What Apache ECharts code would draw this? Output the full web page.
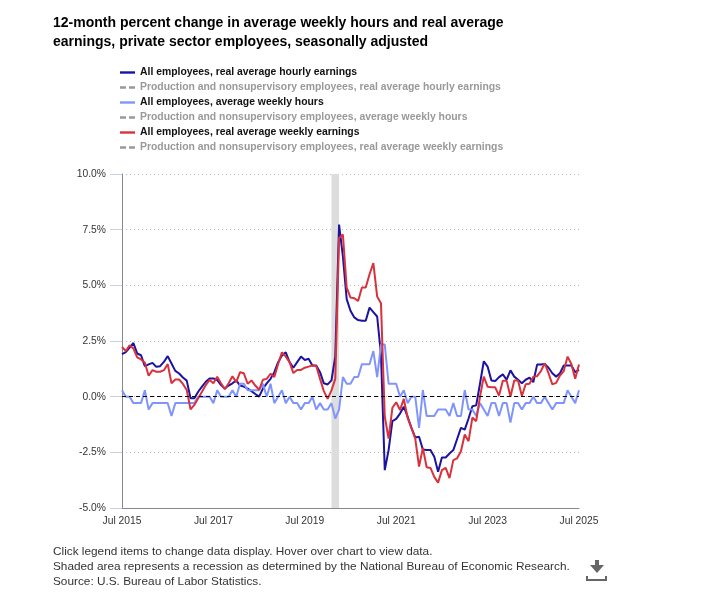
<!DOCTYPE html>
<html lang="en">
<head>
    <meta charset="UTF-8">
    <title>Real earnings</title>
    <script src="https://cdn.jsdelivr.net/npm/echarts@6/dist/echarts.min.js"></script>
    <style>
        html, body { margin: 0; padding: 0; background: #fff; }
        #main { width: 718px; height: 607px; }
    </style>
</head>
<body>
    <div id="main"></div>
    <script>
        // monthly, Jul 2015 .. Jul 2025
        var monthNames = ['Jan','Feb','Mar','Apr','May','Jun','Jul','Aug','Sep','Oct','Nov','Dec'];
        var categories = [];
        for (var k = 0; k <= 120; k++) {
            var m = (6 + k) % 12, y = 2015 + Math.floor((6 + k) / 12);
            categories.push(monthNames[m] + ' ' + y);
        }
        var xTickLabels = ['Jul 2015','Jul 2017','Jul 2019','Jul 2021','Jul 2023','Jul 2025'];
        var yTicks = [-5, -2.5, 0, 2.5, 5, 7.5, 10];

        var seriesNames = [
            'All employees, real average hourly earnings',
            'Production and nonsupervisory employees, real average hourly earnings',
            'All employees, average weekly hours',
            'Production and nonsupervisory employees, average weekly hours',
            'All employees, real average weekly earnings',
            'Production and nonsupervisory employees, real average weekly earnings'
        ];

        var hourlyAll = [
            1.91,2.0,2.2,2.41,1.94,1.86,1.37,1.45,1.52,1.34,
            1.37,1.56,1.82,1.49,1.16,1.04,0.86,0.72,-0.07,-0.07,
            0.22,0.45,0.67,0.82,0.82,0.75,0.52,0.37,0.5,0.6,
            0.73,0.5,0.45,0.36,0.25,0.12,0.0,0.36,0.6,0.8,
            1.1,1.55,1.85,1.99,1.55,1.3,1.55,1.8,1.65,1.7,
            1.4,1.4,1.1,0.6,0.55,0.73,1.8,7.73,6.3,4.38,
            3.86,3.56,3.44,3.41,3.41,4.0,3.8,3.6,1.9,-3.3,
            -2.4,-1.1,-1.0,-0.76,-0.45,-0.9,-1.4,-1.83,-1.8,-2.37,
            -2.4,-2.4,-2.7,-3.37,-2.73,-2.73,-2.55,-2.4,-1.9,-1.4,
            -1.48,-0.98,-0.43,-0.39,0.58,1.59,1.35,0.73,0.7,0.88,
            1.0,0.76,1.18,0.9,0.76,0.6,0.76,0.85,0.65,1.44,
            1.44,1.47,1.3,1.05,0.9,1.05,1.4,1.4,1.4,1.1,
            1.2
        ];
        var hoursAll = [
            0.29,0,0,-0.29,-0.29,-0.29,0.29,-0.58,-0.29,-0.29,
            -0.29,-0.29,-0.29,-0.87,-0.29,-0.29,-0.29,-0.29,-0.29,-0.29,
            0,0,0,0,-0.29,0.29,0,0,0,0.29,
            0,0.58,0.58,0.29,0.29,0.29,0.29,0.58,0,0.58,
            -0.29,0,0.29,-0.29,0,-0.29,-0.29,-0.58,-0.29,-0.29,
            0,-0.58,-0.29,-0.58,-0.58,-0.29,-0.98,-0.58,0.88,0.58,
            0.58,0.88,0.88,1.46,1.46,1.46,2.05,0.88,2.34,2.34,
            0.58,0.58,0.58,0,0.29,-0.29,0,0,-1.4,0.29,
            -0.87,-0.87,-0.87,-0.58,-0.58,-0.58,-0.87,-0.29,-0.87,-0.87,
            0.29,-0.58,-0.58,-0.87,-0.29,-0.58,-0.87,-0.29,-0.29,-0.87,
            -0.29,-0.29,-1.16,-0.29,-0.29,-0.58,-0.29,-0.29,0,-0.29,
            -0.29,0,-0.29,-0.58,-0.29,-0.29,-0.29,0.29,0,-0.29,
            0.29
        ];
        var weeklyAll = [
            2.23,2.05,2.31,2.16,1.76,1.67,1.52,0.94,1.19,1.12,
            1.12,1.19,1.46,0.6,0.77,0.77,0.57,0.3,-0.57,-0.37,
            -0.07,0.22,0.52,0.75,0.6,0.89,0.6,0.33,0.6,0.92,
            0.65,1.1,1.05,0.58,0.73,0.5,0.31,0.76,0.8,1.03,
            0.88,1.47,1.99,1.8,1.55,1.06,1.2,1.2,1.3,1.35,
            1.4,1.38,0.8,0.25,-0.1,0.28,0.8,7.13,7.28,4.9,
            4.45,4.42,4.3,4.9,4.9,5.5,6.0,4.5,4.2,-0.9,
            -1.88,-0.5,-0.25,-0.6,-0.1,-0.95,-1.4,-1.88,-3.14,-2.3,
            -3.17,-3.2,-3.6,-3.86,-3.3,-3.2,-3.66,-2.85,-2.77,-2.45,
            -1.7,-2.0,-0.94,-1.1,0.0,0.9,0.45,0.42,0.42,0.05,
            0.72,0.72,0.0,0.73,0.73,0.03,0.56,0.58,0.9,0.92,
            1.15,1.5,1.05,0.55,0.62,0.95,1.15,1.8,1.47,0.8,
            1.44
        ];
        // production & nonsupervisory series are switched off in the reference
        var hourlyPns = [], hoursPns = [], weeklyPns = [];

        var recession = ['Feb 2020', 'Apr 2020'];
        var footerLines = [
            'Click legend items to change data display. Hover over chart to view data.',
            'Shaded area represents a recession as determined by the National Bureau of Economic Research.',
            'Source: U.S. Bureau of Labor Statistics.'
        ];

        var colors = ['#1c13a1', '#999999', '#8095fb', '#999999', '#d8323c', '#999999'];
        var solidIcon = 'path://M0,0H15V2.4H0Z';
        var dashIcon = 'path://M0,0H6V2.4H0Z M9,0H15V2.4H9Z';
        var font = 'Liberation Sans, Arial, sans-serif';

        var chart = echarts.init(document.getElementById('main'));

        function lineSeries(i, data, extra) {
            var s = {
                name: seriesNames[i],
                type: 'line',
                data: data,
                symbol: 'none',
                color: colors[i],
                lineStyle: { width: 2, color: colors[i], type: i % 2 ? 'dashed' : 'solid' },
                animation: false
            };
            for (var key in extra) s[key] = extra[key];
            return s;
        }

        var legendSelected = {};
        seriesNames.forEach(function (n, i) { legendSelected[n] = (i % 2 === 0); });

        chart.setOption({
            animation: false,
            textStyle: { fontFamily: font },
            title: {
                text: '12-month percent change in average weekly hours and real average\nearnings, private sector employees, seasonally adjusted',
                left: 48,
                top: 9,
                textStyle: { fontSize: 14, fontWeight: 'bold', color: '#000', lineHeight: 19, fontFamily: font }
            },
            legend: {
                orient: 'vertical',
                left: 115,
                top: 60,
                itemWidth: 15,
                itemHeight: 3,
                itemGap: 0,
                selected: legendSelected,
                inactiveColor: '#999',
                textStyle: { fontSize: 10.4, fontWeight: 'bold', color: '#111', lineHeight: 15, fontFamily: font },
                data: seriesNames.map(function (n, i) {
                    return { name: n, icon: i % 2 ? dashIcon : solidIcon };
                })
            },
            grid: { left: 122, top: 174, width: 457, height: 334 },
            xAxis: {
                type: 'category',
                data: categories,
                boundaryGap: false,
                axisLine: { show: true, onZero: false, lineStyle: { color: '#888', width: 1 } },
                axisTick: { show: false },
                axisLabel: {
                    color: '#333', fontSize: 10.3, margin: 8,
                    interval: function (idx, val) { return xTickLabels.indexOf(val) >= 0; }
                },
                splitLine: { show: false }
            },
            yAxis: {
                type: 'value',
                min: yTicks[0],
                max: yTicks[yTicks.length - 1],
                interval: 2.5,
                axisLine: { show: true, lineStyle: { color: '#888', width: 1 } },
                axisTick: { show: true, length: 12, lineStyle: { color: '#c6d0e6' } },
                axisLabel: {
                    color: '#333', fontSize: 10.3, margin: 16,
                    formatter: function (v) { return v.toFixed(1) + '%'; }
                },
                splitLine: { show: true, lineStyle: { color: '#bbb', type: [1, 3], width: 1 } }
            },
            series: [
                lineSeries(0, hourlyAll, {
                    markArea: {
                        silent: true,
                        itemStyle: { color: '#dddddd' },
                        data: [[{ xAxis: recession[0] }, { xAxis: recession[1] }]]
                    },
                    markLine: {
                        silent: true,
                        symbol: 'none',
                        label: { show: false },
                        lineStyle: { color: '#000', type: [4, 3], width: 1 },
                        data: [{ yAxis: 0 }]
                    }
                }),
                lineSeries(1, hourlyPns),
                lineSeries(2, hoursAll),
                lineSeries(3, hoursPns),
                lineSeries(4, weeklyAll),
                lineSeries(5, weeklyPns)
            ],
            graphic: [
                {
                    type: 'text',
                    left: 53,
                    top: 544,
                    style: {
                        text: footerLines.join('\n'),
                        font: '11.8px ' + font,
                        fill: '#333',
                        lineHeight: 15
                    }
                },
                {
                    type: 'group',
                    left: 586,
                    top: 560,
                    children: [
                        { type: 'rect', shape: { x: 9, y: 0, width: 4, height: 6 }, style: { fill: '#666' } },
                        { type: 'polygon', shape: { points: [[4, 5], [18, 5], [11, 13]] }, style: { fill: '#666' } },
                        { type: 'rect', shape: { x: 0, y: 19, width: 21, height: 2 }, style: { fill: '#666' } },
                        { type: 'rect', shape: { x: 0, y: 16, width: 2, height: 5 }, style: { fill: '#666' } },
                        { type: 'rect', shape: { x: 19, y: 16, width: 2, height: 5 }, style: { fill: '#666' } }
                    ]
                }
            ]
        });
    </script>
</body>
</html>
